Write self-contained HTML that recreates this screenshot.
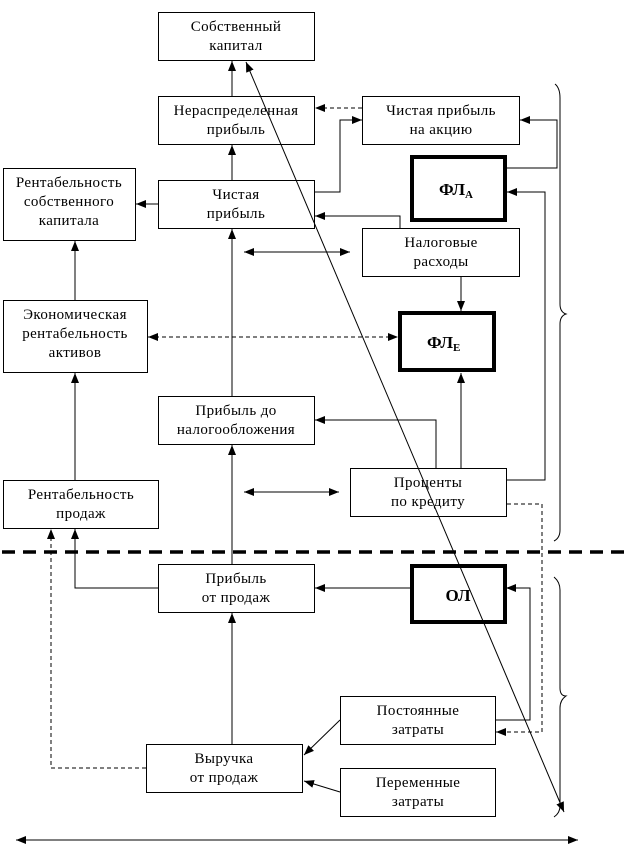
<!DOCTYPE html>
<html><head><meta charset="utf-8"><style>
html,body{margin:0;padding:0;background:#fff;}
svg{display:block;}
text{font-family:"Liberation Serif",serif;font-size:15px;letter-spacing:0.4px;fill:#000;}
.b{font-weight:bold;font-size:17px;letter-spacing:0;}
</style></head><body>
<svg width="629" height="864" viewBox="0 0 629 864" xmlns="http://www.w3.org/2000/svg">
<defs>
<marker id="a" markerWidth="10" markerHeight="8" refX="10" refY="4" orient="auto" markerUnits="userSpaceOnUse"><path d="M0,0 L10,4 L0,8 z" fill="#000"/></marker>
<marker id="s" markerWidth="10" markerHeight="8" refX="0" refY="4" orient="auto" markerUnits="userSpaceOnUse"><path d="M10,0 L0,4 L10,8 z" fill="#000"/></marker>
</defs>
<g fill="#fff" stroke="#000" stroke-width="1">
<rect x="158.5" y="12.5" width="156" height="48"/>
<rect x="158.5" y="96.5" width="156" height="48"/>
<rect x="362.5" y="96.5" width="157" height="48"/>
<rect x="3.5" y="168.5" width="132" height="72"/>
<rect x="158.5" y="180.5" width="156" height="48"/>
<rect x="362.5" y="228.5" width="157" height="48"/>
<rect x="3.5" y="300.5" width="144" height="72"/>
<rect x="158.5" y="396.5" width="156" height="48"/>
<rect x="350.5" y="468.5" width="156" height="48"/>
<rect x="3.5" y="480.5" width="155" height="48"/>
<rect x="158.5" y="564.5" width="156" height="48"/>
<rect x="340.5" y="696.5" width="155" height="48"/>
<rect x="146.5" y="744.5" width="156" height="48"/>
<rect x="340.5" y="768.5" width="155" height="48"/>
</g>
<g fill="#fff" stroke="#000" stroke-width="4">
<rect x="412" y="157" width="93" height="63"/>
<rect x="400" y="313" width="94" height="57"/>
<rect x="412" y="566" width="93" height="56"/>
</g>
<g stroke="#000" stroke-width="1" fill="none">
<line x1="232" y1="96" x2="232" y2="61" marker-end="url(#a)"/>
<line x1="232" y1="180" x2="232" y2="145" marker-end="url(#a)"/>
<line x1="362" y1="108" x2="315" y2="108" stroke-dasharray="4,3" marker-end="url(#a)"/>
<polyline points="315,192 340,192 340,120 362,120" marker-end="url(#a)"/>
<polyline points="505,168 557,168 557,120 520,120" marker-end="url(#a)"/>
<polyline points="400,228 400,216 315,216" marker-end="url(#a)"/>
<polyline points="507,480 545,480 545,192 507,192" marker-end="url(#a)"/>
<line x1="158" y1="204" x2="136" y2="204" marker-end="url(#a)"/>
<line x1="75" y1="300" x2="75" y2="241" marker-end="url(#a)"/>
<line x1="75" y1="480" x2="75" y2="373" marker-end="url(#a)"/>
<line x1="232" y1="396" x2="232" y2="229" marker-end="url(#a)"/>
<line x1="244" y1="252" x2="350" y2="252" marker-start="url(#s)" marker-end="url(#a)"/>
<line x1="461" y1="276" x2="461" y2="311" marker-end="url(#a)"/>
<line x1="148" y1="337" x2="398" y2="337" stroke-dasharray="4,3" marker-start="url(#s)" marker-end="url(#a)"/>
<polyline points="436,468 436,420 315,420" marker-end="url(#a)"/>
<line x1="461" y1="468" x2="461" y2="373" marker-end="url(#a)"/>
<line x1="244" y1="492" x2="339" y2="492" marker-start="url(#s)" marker-end="url(#a)"/>
<polyline points="507,504 542,504 542,732 496,732" stroke-dasharray="4,3" marker-end="url(#a)"/>
<line x1="232" y1="564" x2="232" y2="445" marker-end="url(#a)"/>
<line x1="410" y1="588" x2="315" y2="588" marker-end="url(#a)"/>
<polyline points="158,588 75,588 75,529" marker-end="url(#a)"/>
<polyline points="495,720 530,720 530,588 506,588" marker-end="url(#a)"/>
<line x1="232" y1="744" x2="232" y2="613" marker-end="url(#a)"/>
<line x1="340" y1="720" x2="304" y2="755" marker-end="url(#a)"/>
<line x1="340" y1="792" x2="304" y2="781" marker-end="url(#a)"/>
<polyline points="146,768 51,768 51,529" stroke-dasharray="4,3" marker-end="url(#a)"/>
<line x1="16" y1="840" x2="578" y2="840" marker-start="url(#s)" marker-end="url(#a)"/>
<line x1="2" y1="552" x2="629" y2="552" stroke-width="3.5" stroke-dasharray="13,8"/>
<path d="M555,84 Q560,88 560,98 L560,304 Q560,312 566,314 Q560,316 560,324 L560,530 Q560,538 554,541"/>
<path d="M554,577 Q560,582 560,590 L560,688 Q560,696 566,696 Q560,700 560,708 L560,806 Q560,813 554,817"/>
</g>
<g text-anchor="middle">
<text x="236" y="31">Собственный</text><text x="236" y="50">капитал</text>
<text x="236" y="115">Нераспределенная</text><text x="236" y="134">прибыль</text>
<text x="441" y="115">Чистая прибыль</text><text x="441" y="134">на акцию</text>
<text x="69" y="187">Рентабельность</text><text x="69" y="206">собственного</text><text x="69" y="225">капитала</text>
<text x="236" y="199">Чистая</text><text x="236" y="218">прибыль</text>
<text x="441" y="247">Налоговые</text><text x="441" y="266">расходы</text>
<text x="75" y="319">Экономическая</text><text x="75" y="338">рентабельность</text><text x="75" y="357">активов</text>
<text x="236" y="415">Прибыль до</text><text x="236" y="434">налогообложения</text>
<text x="428" y="487">Проценты</text><text x="428" y="506">по кредиту</text>
<text x="81" y="499">Рентабельность</text><text x="81" y="518">продаж</text>
<text x="236" y="583">Прибыль</text><text x="236" y="602">от продаж</text>
<text x="418" y="715">Постоянные</text><text x="418" y="734">затраты</text>
<text x="224" y="763">Выручка</text><text x="224" y="782">от продаж</text>
<text x="418" y="787">Переменные</text><text x="418" y="806">затраты</text>
</g>
<text class="b" x="439" y="195">ФЛ<tspan font-size="11" dy="3">А</tspan></text>
<text class="b" x="427" y="348">ФЛ<tspan font-size="11" dy="3">Е</tspan></text>
<text class="b" x="458" y="601" text-anchor="middle">ОЛ</text>
<line x1="246" y1="62" x2="564" y2="812" stroke="#000" stroke-width="1" marker-start="url(#s)" marker-end="url(#a)"/>
</svg>
</body></html>
